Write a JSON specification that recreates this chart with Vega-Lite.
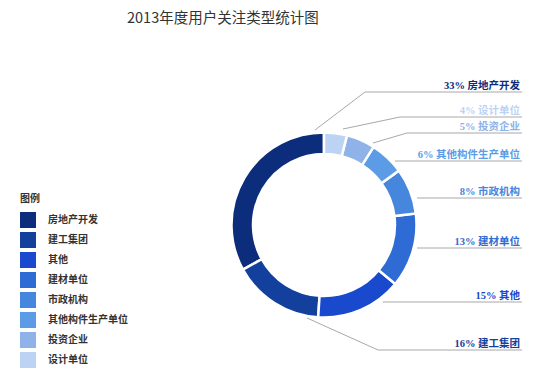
{
  "$schema": "https://vega.github.io/schema/vega-lite/v6.json",
  "width": 424,
  "height": 318,
  "autosize": {"type": "none"},
  "padding": {"left": 112, "top": 66, "right": 0, "bottom": 0},
  "background": "white",
  "config": {"view": {"stroke": null}},
  "title": {
    "text": "2013年度用户关注类型统计图",
    "anchor": "start",
    "frame": "group",
    "dx": 15,
    "offset": 40,
    "font": "Noto Sans CJK SC",
    "fontSize": 14.5,
    "fontWeight": "normal",
    "color": "#333333"
  },
  "params": [
    {"name": "labelY", "value": {"房地产开发": 26, "设计单位": 51, "投资企业": 67, "其他构件生产单位": 95, "市政机构": 132, "建材单位": 182, "其他": 236, "建工集团": 284}},
    {"name": "lineX", "value": {"房地产开发": 253, "设计单位": 288, "投资企业": 295, "其他构件生产单位": 283, "市政机构": 305, "建材单位": 305, "其他": 271, "建工集团": 266}},
    {"name": "diagX", "value": {"房地产开发": 203, "设计单位": 231, "投资企业": 261, "建工集团": 195}},
    {"name": "diagY", "value": {"房地产开发": 64, "设计单位": 63, "投资企业": 77, "建工集团": 252}}
  ],
  "data": {
    "values": [
      {"type": "房地产开发", "pct": 33, "label": "33%  房地产开发"},
      {"type": "建工集团", "pct": 16, "label": "16%  建工集团"},
      {"type": "其他", "pct": 15, "label": "15%  其他"},
      {"type": "建材单位", "pct": 13, "label": "13%  建材单位"},
      {"type": "市政机构", "pct": 8, "label": "8%  市政机构"},
      {"type": "其他构件生产单位", "pct": 6, "label": "6%  其他构件生产单位"},
      {"type": "投资企业", "pct": 5, "label": "5%  投资企业"},
      {"type": "设计单位", "pct": 4, "label": "4%  设计单位"}
    ]
  },
  "layer": [
    {
      "mark": {"type": "arc", "innerRadius": 71, "outerRadius": 92.5, "stroke": "white", "strokeWidth": 2.5},
      "encoding": {
        "theta": {"field": "pct", "type": "quantitative", "stack": true},
        "order": {"field": "pct", "type": "quantitative", "sort": "ascending"},
        "color": {
          "field": "type",
          "type": "nominal",
          "scale": {
            "domain": ["房地产开发", "建工集团", "其他", "建材单位", "市政机构", "其他构件生产单位", "投资企业", "设计单位"],
            "range": ["#0c2c7c", "#13409c", "#1949cc", "#2f6bd4", "#4686dd", "#5c9ce6", "#8fb2e8", "#bdd3f3"]
          },
          "legend": {
            "orient": "none", "legendX": -92, "legendY": 128,
            "title": "图例", "titleFont": "Noto Sans CJK SC", "titleFontSize": 10, "titleFontWeight": "bold", "titleColor": "#333333", "titlePadding": 8,
            "symbolType": "square", "symbolSize": 256, "symbolStrokeWidth": 0, "symbolOpacity": 1,
            "labelFont": "Noto Sans CJK SC", "labelFontSize": 10, "labelFontWeight": "bold", "labelColor": "#333333", "labelOffset": 12, "rowPadding": 4
          }
        }
      }
    },
    {
      "mark": {"type": "rule", "color": "#a8a8a8", "strokeWidth": 1},
      "encoding": {
        "x": {"value": {"expr": "lineX[datum.type]"}},
        "x2": {"value": {"expr": "width - 14"}},
        "y": {"value": {"expr": "labelY[datum.type]"}}
      }
    },
    {
      "transform": [{"filter": "isValid(diagX[datum.type])"}],
      "mark": {"type": "rule", "color": "#a8a8a8", "strokeWidth": 1},
      "encoding": {
        "x": {"value": {"expr": "diagX[datum.type]"}},
        "y": {"value": {"expr": "diagY[datum.type]"}},
        "x2": {"value": {"expr": "lineX[datum.type]"}},
        "y2": {"value": {"expr": "labelY[datum.type]"}}
      }
    },
    {
      "mark": {
        "type": "text", "align": "right", "baseline": "alphabetic",
        "x": {"expr": "width - 16"}, "y": {"expr": "labelY[datum.type] - 3"},
        "font": "Liberation Serif, Noto Sans CJK SC", "fontSize": 10.5, "fontWeight": "bold"
      },
      "encoding": {
        "text": {"field": "label"},
        "color": {
          "field": "type",
          "type": "nominal",
          "legend": {
            "orient": "none", "legendX": -92, "legendY": 128,
            "title": "图例", "titleFont": "Noto Sans CJK SC", "titleFontSize": 10, "titleFontWeight": "bold", "titleColor": "#333333", "titlePadding": 8,
            "symbolType": "square", "symbolSize": 256, "symbolStrokeWidth": 0, "symbolOpacity": 1,
            "labelFont": "Noto Sans CJK SC", "labelFontSize": 10, "labelFontWeight": "bold", "labelColor": "#333333", "labelOffset": 12, "rowPadding": 4
          }
        }
      }
    }
  ]
}
